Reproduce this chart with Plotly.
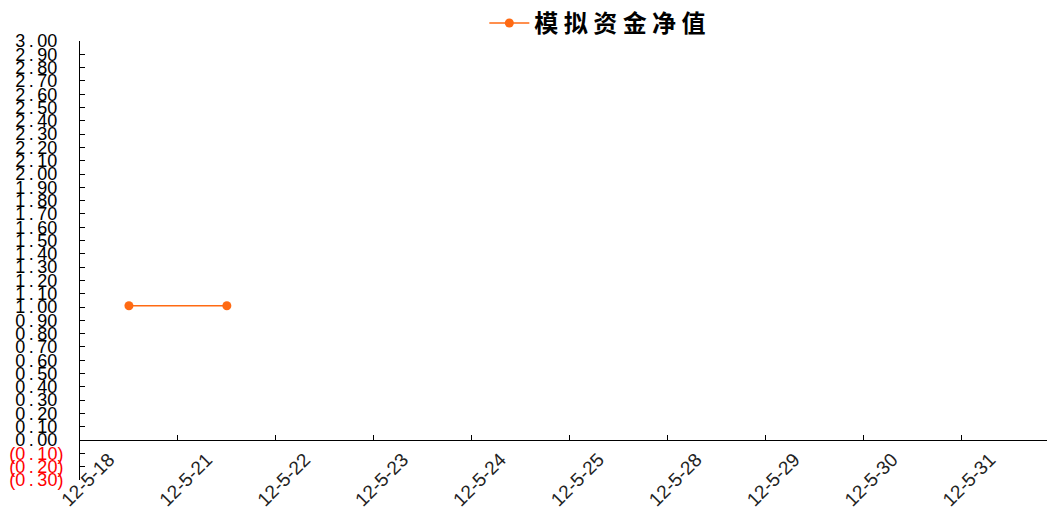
import plotly.graph_objects as go

categories = ["12-5-18", "12-5-21", "12-5-22", "12-5-23", "12-5-24",
              "12-5-25", "12-5-28", "12-5-29", "12-5-30", "12-5-31"]
values = [1.01, 1.01, None, None, None, None, None, None, None, None]
series_name = "模 拟 资 金 净 值"

y_min, y_max, y_step = -0.30, 3.00, 0.10
n_ticks = int(round((y_max - y_min) / y_step)) + 1
tick_vals = [round(y_min + i * y_step, 2) for i in range(n_ticks)]


def fmt(v):
    s = f"{abs(v):.2f}".replace(".", "\u2009.\u2009")
    if v < 0:
        return f"<span style='color:#FF0000'>({s})</span>"
    return f"{s}<span style='color:rgba(0,0,0,0)'>)</span>"


tick_text = [fmt(v) for v in tick_vals]

fig = go.Figure()
fig.add_trace(go.Scatter(
    x=categories, y=values, mode="lines+markers", name=series_name,
    line=dict(color="#FF6A13", width=1.5),
    marker=dict(color="#FF6A13", size=9),
    connectgaps=False,
))

zero_frac = (0 - y_min) / (y_max - y_min)

fig.update_layout(
    width=1051, height=518,
    margin=dict(l=72, r=0, t=33, b=46, autoexpand=False),
    paper_bgcolor="white", plot_bgcolor="white",
    font=dict(family="Liberation Sans, Arial, sans-serif", color="black"),
    showlegend=True,
    legend=dict(orientation="h", x=0.413, xanchor="left", y=1.040, yanchor="middle",
                itemwidth=40,
                font=dict(family="Noto Sans CJK SC", size=24, color="black", weight="bold"),
                bgcolor="rgba(0,0,0,0)"),
    xaxis=dict(
        type="category", categoryorder="array", categoryarray=categories,
        range=[-0.5, len(categories) - 0.5],
        anchor="free", position=zero_frac, automargin=False,
        showline=True, linecolor="black", linewidth=1,
        ticks="inside", ticklen=5, tickcolor="black", tickson="boundaries",
        tickangle=-45, tickfont=dict(size=19, color="#222222"),
        ticklabelshift=-20,
        showgrid=False, zeroline=False,
    ),
    yaxis=dict(
        range=[y_min, y_max], tickmode="array", tickvals=tick_vals, ticktext=tick_text,
        automargin=False,
        showline=True, linecolor="black", linewidth=1,
        ticks="inside", ticklen=5, tickcolor="black",
        tickfont=dict(size=18, color="black"),
        ticklabelstandoff=12,
        showgrid=False, zeroline=False,
    ),
)

fig.write_html("out.html")
